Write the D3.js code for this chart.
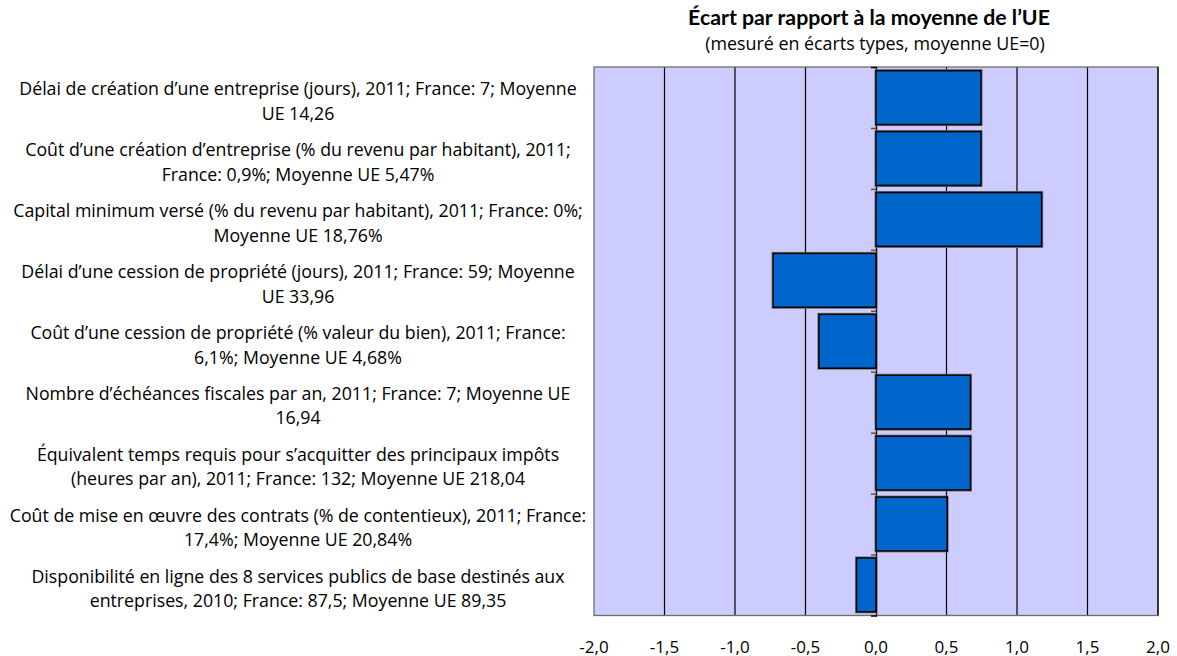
<!DOCTYPE html>
<html><head><meta charset="utf-8">
<script src="https://cdn.jsdelivr.net/npm/d3@7"></script>
<style>
html,body{margin:0;padding:0;background:#fff;}
svg{display:block;font-family:"Open Sans",Lato,sans-serif;}
</style></head>
<body><svg id="c" width="1177" height="656"></svg>
<script>
const categories = [
  ["Délai de création d’une entreprise (jours), 2011; France: 7; Moyenne", "UE 14,26"],
  ["Coût d’une création d’entreprise (% du revenu par habitant), 2011;", "France: 0,9%; Moyenne UE 5,47%"],
  ["Capital minimum versé (% du revenu par habitant), 2011; France: 0%;", "Moyenne UE 18,76%"],
  ["Délai d’une cession de propriété (jours), 2011; France: 59; Moyenne", "UE 33,96"],
  ["Coût d’une cession de propriété (% valeur du bien), 2011; France:", "6,1%; Moyenne UE 4,68%"],
  ["Nombre d’échéances fiscales par an, 2011; France: 7; Moyenne UE", "16,94"],
  ["Équivalent temps requis pour s’acquitter des principaux impôts", "(heures par an), 2011; France: 132; Moyenne UE 218,04"],
  ["Coût de mise en œuvre des contrats (% de contentieux), 2011; France:", "17,4%; Moyenne UE 20,84%"],
  ["Disponibilité en ligne des 8 services publics de base destinés aux", "entreprises, 2010; France: 87,5; Moyenne UE 89,35"]
];
const values = [0.745, 0.745, 1.175, -0.73, -0.405, 0.67, 0.67, 0.505, -0.138];
const xTicks = [-2, -1.5, -1, -0.5, 0, 0.5, 1, 1.5, 2];
const title = "Écart par rapport à la moyenne de l’UE";
const subtitle = "(mesuré en écarts types, moyenne UE=0)";

const svg = d3.select("#c");
const L = 594, R = 1158, T = 67, B = 615.5;
const x = d3.scaleLinear().domain([-2, 2]).range([L, R]);
const idx = d3.range(categories.length);
const y = d3.scaleBand().domain(idx).range([T, B]).paddingInner(0.115).paddingOuter(0.06);
const yb = d3.scaleLinear().domain([0, categories.length]).range([T, B]);

function fitSize(text, target, base, weight, family) {
  const p = svg.append("text").attr("font-size", base).attr("font-weight", weight || "normal").text(text);
  if (family) p.attr("font-family", family);
  const w = p.node().getComputedTextLength();
  p.remove();
  return base * target / w;
}

// plot background
svg.append("rect").attr("x", L).attr("y", T).attr("width", R - L).attr("height", B - T)
  .attr("fill", "#CCCCFF");

// gridlines
svg.append("g").selectAll("line").data(xTicks.filter(d => d !== -2 && d !== 2 && d !== 0)).join("line")
  .attr("x1", d => x(d)).attr("x2", d => x(d)).attr("y1", T).attr("y2", B)
  .attr("stroke", "#000").attr("stroke-width", 1.2);

// border
svg.append("rect").attr("x", L).attr("y", T).attr("width", R - L).attr("height", B - T)
  .attr("fill", "none").attr("stroke", "#6e6e6e").attr("stroke-width", 1.3);
svg.append("line").attr("x1", R).attr("x2", R).attr("y1", T).attr("y2", B).attr("stroke", "#000").attr("stroke-width", 1.3);

// zero axis with category boundary ticks
const ax = svg.append("g").attr("transform", `translate(${x(0)},0)`)
  .call(d3.axisLeft(yb).tickValues(d3.range(1, categories.length)).tickSize(5).tickFormat(""));
ax.select(".domain").attr("stroke", "#000").attr("stroke-width", 1.3);
ax.selectAll(".tick line").attr("stroke", "#555").attr("stroke-width", 1.5);

// bar shadows
svg.append("g").selectAll("rect").data(values).join("rect")
  .attr("x", d => Math.min(x(0), x(d)) - 1).attr("y", (d, i) => y(i) - 1)
  .attr("width", d => Math.abs(x(d) - x(0)) + 2).attr("height", y.bandwidth() + 2)
  .attr("fill", "none").attr("stroke", "#777").attr("stroke-width", 1);
// bars
svg.append("g").selectAll("rect").data(values).join("rect")
  .attr("x", d => Math.min(x(0), x(d))).attr("y", (d, i) => y(i))
  .attr("width", d => Math.abs(x(d) - x(0))).attr("height", y.bandwidth())
  .attr("fill", "#0066CC").attr("stroke", "#000").attr("stroke-width", 1.6);

// x tick labels
svg.append("g").selectAll("text").data(xTicks).join("text")
  .attr("x", d => x(d)).attr("y", 646).attr("text-anchor", "middle").attr("dominant-baseline", "central")
  .attr("font-size", 17).attr("fill", "#000")
  .text(d => d3.format(".1f")(d).replace("−", "-").replace(".", ","));

// category labels
const lab = svg.append("g");
const cx = 298;
const fs = fitSize(categories[7][0], 577, 15);
categories.forEach((lines, i) => {
  const c = y(i) + y.bandwidth() / 2 + 3;
  lines.forEach((t, j) => {
    lab.append("text").attr("x", cx).attr("y", c - 12.25 + j * 24.5)
      .attr("text-anchor", "middle").attr("dominant-baseline", "central")
      .attr("font-size", fs).attr("fill", "#000").text(t);
  });
});

// titles
svg.append("text").attr("x", 869).attr("y", 25).attr("text-anchor", "middle")
  .attr("font-family", "Lato")
  .attr("font-size", fitSize(title, 362, 15, "bold", "Lato")).attr("font-weight", "bold").attr("fill", "#000").text(title);
svg.append("text").attr("x", 875).attr("y", 50).attr("text-anchor", "middle")
  .attr("font-size", fitSize(subtitle, 340, 14)).attr("fill", "#000").text(subtitle);
</script></body></html>
